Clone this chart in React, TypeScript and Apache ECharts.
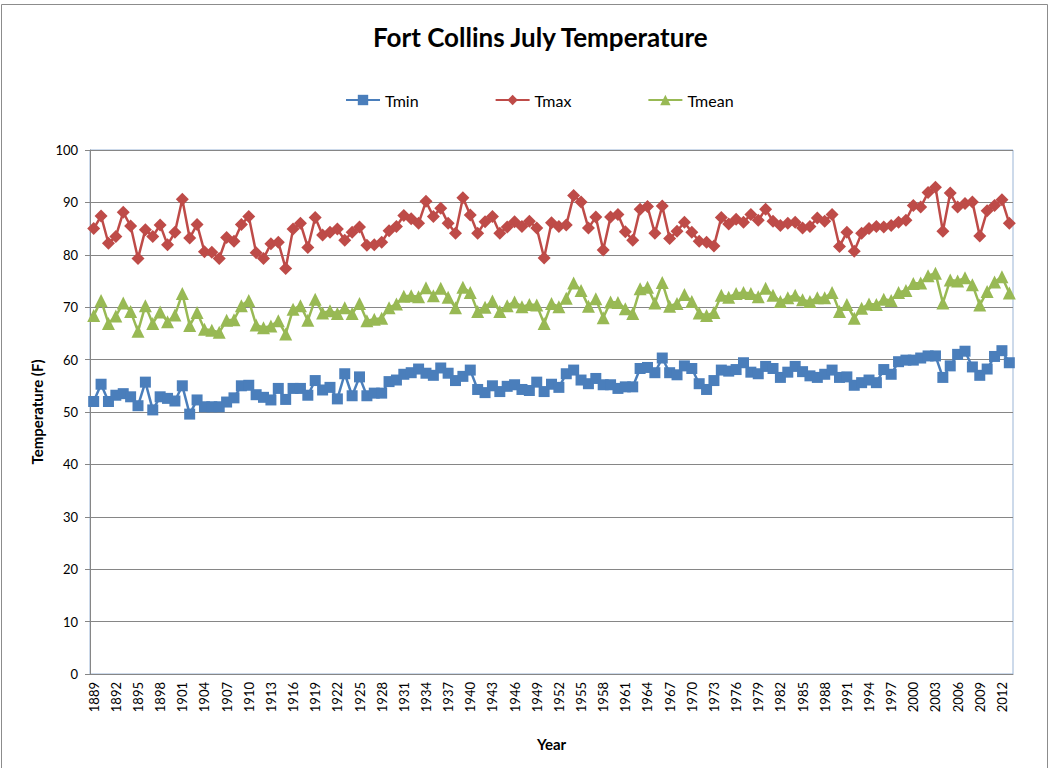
import React, { useEffect, useRef } from "react";
import * as echarts from "echarts";

const startYear = 1889;
const years: string[] = Array.from({ length: 125 }, (_, i) => String(startYear + i));

const tmin: number[] = [
  52.0, 55.3, 52.0, 53.2, 53.5, 52.9, 51.2, 55.7, 50.4, 52.9,
  52.6, 52.1, 55.0, 49.6, 52.3, 51.0, 51.0, 51.0, 51.9, 52.7,
  55.0, 55.1, 53.3, 52.8, 52.3, 54.5, 52.4, 54.5, 54.5, 53.2,
  56.0, 54.2, 54.7, 52.5, 57.3, 53.1, 56.7, 53.1, 53.6, 53.6,
  55.8, 56.1, 57.2, 57.5, 58.2, 57.4, 57.0, 58.4, 57.4, 56.0,
  56.8, 58.0, 54.3, 53.7, 55.0, 53.9, 54.9, 55.2, 54.3, 54.1,
  55.7, 53.9, 55.3, 54.7, 57.3, 58.0, 56.1, 55.4, 56.4, 55.2,
  55.2, 54.5, 54.8, 54.8, 58.3, 58.5, 57.5, 60.3, 57.5, 57.1,
  58.8, 58.3, 55.4, 54.3, 56.0, 58.0, 57.8, 58.1, 59.4, 57.6,
  57.3, 58.7, 58.3, 56.6, 57.6, 58.7, 57.7, 56.9, 56.6, 57.2,
  58.0, 56.6, 56.7, 55.1, 55.6, 56.1, 55.6, 58.1, 57.2, 59.6,
  59.9, 59.9, 60.3, 60.7, 60.7, 56.6, 58.8, 61.0, 61.6, 58.6,
  57.0, 58.2, 60.6, 61.7, 59.4,
];

const tmax: number[] = [
  85.0, 87.4, 82.2, 83.5, 88.1, 85.5, 79.3, 84.8, 83.5, 85.7,
  81.9, 84.3, 90.6, 83.2, 85.8, 80.6, 80.5, 79.3, 83.3, 82.6,
  85.8, 87.3, 80.4, 79.3, 82.1, 82.4, 77.4, 84.9, 86.0, 81.4,
  87.1, 83.8, 84.3, 84.9, 82.8, 84.3, 85.3, 81.8, 81.9, 82.4,
  84.6, 85.4, 87.5, 86.9, 86.0, 90.2, 87.3, 88.9, 86.0, 84.1,
  90.9, 87.6, 84.1, 86.3, 87.3, 84.1, 85.3, 86.3, 85.4, 86.4,
  85.1, 79.4, 86.1, 85.4, 85.7, 91.3, 90.1, 85.1, 87.2, 80.9,
  87.2, 87.7, 84.4, 82.8, 88.7, 89.2, 84.1, 89.3, 83.1, 84.5,
  86.2, 84.3, 82.6, 82.4, 81.7, 87.1, 85.9, 86.8, 86.2, 87.7,
  86.6, 88.7, 86.4, 85.6, 86.0, 86.2, 85.1, 85.4, 87.0, 86.4,
  87.7, 81.6, 84.3, 80.7, 84.1, 85.0, 85.4, 85.3, 85.6, 86.2,
  86.6, 89.4, 89.1, 91.9, 92.9, 84.5, 91.8, 89.1, 89.8, 90.1,
  83.6, 88.4, 89.4, 90.5, 86.0,
];

const tmean: number[] = [
  68.4, 71.3, 66.9, 68.3, 70.8, 69.2, 65.4, 70.3, 66.9, 69.1,
  67.2, 68.5, 72.6, 66.5, 69.0, 65.8, 65.6, 65.2, 67.5, 67.6,
  70.3, 71.3, 66.6, 66.1, 66.4, 67.4, 64.9, 69.6, 70.3, 67.5,
  71.5, 68.9, 69.3, 68.8, 69.9, 68.8, 70.7, 67.4, 67.7, 67.9,
  69.9, 70.6, 72.1, 72.2, 72.0, 73.7, 72.2, 73.6, 71.9, 69.9,
  73.8, 72.8, 69.2, 70.0, 71.2, 69.2, 70.3, 71.0, 70.1, 70.5,
  70.4, 66.9, 70.7, 70.1, 71.7, 74.6, 73.2, 70.2, 71.6, 68.0,
  71.0, 70.9, 69.7, 68.8, 73.5, 73.8, 70.8, 74.7, 70.2, 70.7,
  72.4, 71.1, 68.9, 68.4, 69.0, 72.3, 71.9, 72.6, 72.8, 72.6,
  72.0, 73.6, 72.3, 71.1, 71.8, 72.3, 71.4, 71.1, 71.8, 71.8,
  72.8, 69.2, 70.5, 67.9, 69.8, 70.6, 70.5, 71.5, 71.3, 72.8,
  73.2, 74.5, 74.6, 76.0, 76.5, 70.8, 75.2, 75.0, 75.6, 74.3,
  70.4, 73.0, 74.8, 75.8, 72.7,
];

const FONT = "Lato, 'Noto Sans', sans-serif";

export default function App() {
  const ref = useRef<HTMLDivElement>(null);
  useEffect(() => {
    if (!ref.current) return;
    const chart = echarts.init(ref.current, undefined, { renderer: "svg" });
    const lineSeries = (name: string, data: number[], color: string, symbol: string, size: number) => ({
      name,
      type: "line",
      data,
      symbol,
      symbolSize: size,
      showAllSymbol: true,
      lineStyle: { color, width: 2.5 },
      itemStyle: { color },
    });
    chart.setOption({
      animation: false,
      backgroundColor: "#ffffff",
      textStyle: { fontFamily: FONT },
      title: {
        text: "Fort Collins July Temperature",
        left: 368,
        top: 19,
        textStyle: { fontFamily: FONT, fontSize: 26, fontWeight: "bold", color: "#000" },
      },
      legend: {
        top: 87,
        left: 340,
        itemGap: 76,
        itemWidth: 34,
        itemHeight: 13,
        textStyle: { fontFamily: FONT, fontSize: 16, color: "#000" },
        data: ["Tmin", "Tmax", "Tmean"],
      },
      graphic: [
        {
          type: "rect",
          shape: { x: 1.5, y: 4.5, width: 1046, height: 800 },
          style: { fill: "none", stroke: "#8c8c8c", lineWidth: 1 },
          silent: true,
        },
      ],
      grid: {
        left: 90,
        right: 37,
        top: 150,
        bottom: 94,
        show: true,
        borderColor: "#9bb5d6",
        borderWidth: 1,
      },
      xAxis: {
        type: "category",
        data: years,
        boundaryGap: true,
        name: "Year",
        nameLocation: "middle",
        nameGap: 62,
        nameTextStyle: { fontFamily: FONT, fontSize: 15, fontWeight: "bold", color: "#000" },
        axisLine: { lineStyle: { color: "#868686" } },
        axisTick: { interval: 0, length: 5, lineStyle: { color: "#868686" } },
        axisLabel: { interval: 2, rotate: 90, fontSize: 13, color: "#000", fontFamily: FONT },
        splitLine: { show: false },
      },
      yAxis: {
        type: "value",
        min: 0,
        max: 100,
        interval: 10,
        name: "Temperature (F)",
        nameLocation: "middle",
        nameGap: 44,
        nameRotate: 90,
        nameTextStyle: { fontFamily: FONT, fontSize: 15, fontWeight: "bold", color: "#000" },
        axisLine: { show: true, lineStyle: { color: "#868686" } },
        axisTick: { show: true, length: 5, lineStyle: { color: "#868686" } },
        axisLabel: { fontSize: 13, color: "#000", fontFamily: FONT, margin: 12 },
        splitLine: { show: true, lineStyle: { color: "#868686", width: 1 } },
      },
      series: [
        lineSeries("Tmin", tmin, "#4a7ebb", "rect", 11),
        lineSeries("Tmax", tmax, "#be4b48", "diamond", 13),
        lineSeries("Tmean", tmean, "#98b954", "triangle", 13),
      ],
    });
    return () => chart.dispose();
  }, []);
  return (
    <div
      ref={ref}
      style={{ position: "fixed", left: 0, top: 0, width: 1050, height: 768, background: "#fff" }}
    />
  );
}
